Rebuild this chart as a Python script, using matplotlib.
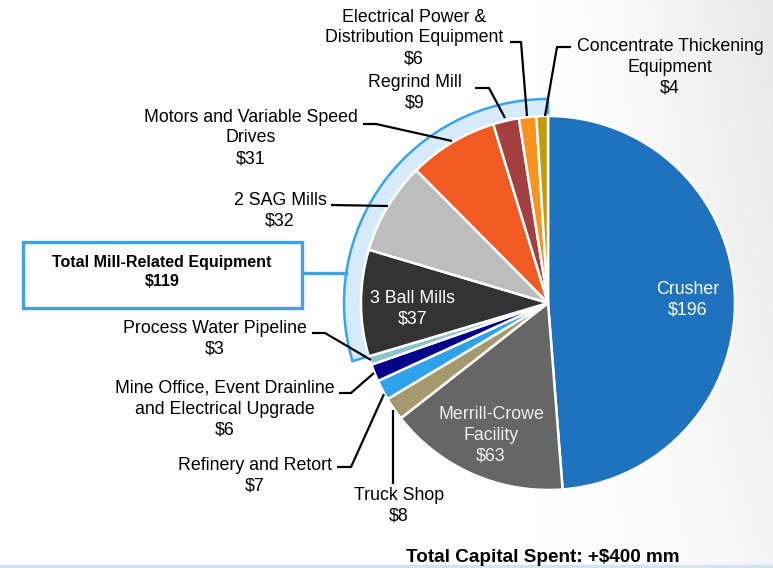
import numpy as np
import matplotlib
matplotlib.use("Agg")
import matplotlib.pyplot as plt
from matplotlib.patches import Wedge, Rectangle

plt.rcParams['font.family'] = ['Liberation Sans', 'DejaVu Sans']

# ---- data ----
categories = ["Crusher", "Merrill-Crowe Facility", "Truck Shop", "Refinery and Retort",
              "Mine Office, Event Drainline and Electrical Upgrade", "Process Water Pipeline",
              "3 Ball Mills", "2 SAG Mills", "Motors and Variable Speed Drives", "Regrind Mill",
              "Electrical Power & Distribution Equipment", "Concentrate Thickening Equipment"]
values = [196, 63, 8, 7, 6, 3, 37, 32, 31, 9, 6, 4]
colors = ["#1F72BD", "#666666", "#A5996F", "#2EA3EC", "#00008B", "#8CC3CB",
          "#333333", "#BDBDBD", "#F15A22", "#A43F3F", "#F7931E", "#C49A0F"]
mill_related = ["3 Ball Mills", "2 SAG Mills", "Motors and Variable Speed Drives", "Regrind Mill",
                "Electrical Power & Distribution Equipment", "Concentrate Thickening Equipment"]
mill_total = 119
total_label = "Total Capital Spent: +$400 mm"

W, H = 773, 568
fig = plt.figure(figsize=(W / 100, H / 100), dpi=100)
ax = fig.add_axes([0, 0, 1, 1])

def Y(py):
    return H - py

CX, CY, R = 548, Y(303), 187

# background gradient (light grey towards the top-right)
xx, yy = np.meshgrid(np.linspace(0, 1, 300), np.linspace(0, 1, 220))
g = 0.09 * np.clip((xx - 0.70) / 0.30, 0, 1) ** 1.3 * (1 - 0.55 * yy)
img = np.dstack([1 - g, 1 - g, 1 - g])
ax.imshow(img, extent=(0, W, 0, H), origin='upper', zorder=-10, aspect='auto')

wedges, _ = ax.pie(values, colors=colors, startangle=90, counterclock=False,
                   center=(CX, CY), radius=R, frame=True,
                   wedgeprops=dict(edgecolor='white', linewidth=1.8))

# mill-related band
tot = sum(values)
start_c = sum(v for c, v in zip(categories, values) if c not in mill_related)
th_end = 90 - 360 * start_c / tot
band = Wedge((CX, CY), 204, -270, th_end, width=19, facecolor="#D6EBFA",
             edgecolor="#3AA3EA", linewidth=1.8, zorder=0.5)
ax.add_patch(band)

# total mill-related box
ax.add_patch(Rectangle((23, Y(308)), 279, 66, facecolor='white', edgecolor="#3AA3EA",
                       linewidth=2.4, zorder=3))
ax.plot([302, 346], [Y(273), Y(273)], color="#3AA3EA", lw=2.4, zorder=2)
ax.text(162, Y(262), "Total Mill-Related Equipment", ha='center', va='center',
        fontsize=11.5, fontweight='bold', zorder=4)
ax.text(162, Y(282), f"${mill_total}", ha='center', va='center',
        fontsize=11.5, fontweight='bold', zorder=4)

fs = 12.8
def label(x, y, text, color='black', size=fs):
    ax.text(x, Y(y), text, ha='center', va='center', fontsize=size, color=color,
            linespacing=1.3, zorder=5)

def leader(pts):
    ax.plot([p[0] for p in pts], [Y(p[1]) for p in pts], color='black', lw=1.6,
            zorder=4, solid_capstyle='butt')

v = dict(zip(categories, values))
label(414, 38, f"Electrical Power &\nDistribution Equipment\n${v['Electrical Power & Distribution Equipment']}")
leader([(510, 42), (521, 42), (527, 116)])
label(670, 67, f"Concentrate Thickening\nEquipment\n${v['Concentrate Thickening Equipment']}")
leader([(571, 47), (557, 47), (545, 116)])
label(415, 93, f"Regrind Mill\n${v['Regrind Mill']}")
leader([(475, 88), (489, 88), (505, 118)])
label(251, 138, f"Motors and Variable Speed\nDrives\n${v['Motors and Variable Speed Drives']}")
leader([(363, 124), (376, 124), (452, 141)])
label(280, 211, f"2 SAG Mills\n${v['2 SAG Mills']}")
leader([(331, 205), (388, 206)])
label(215, 339, f"Process Water Pipeline\n${v['Process Water Pipeline']}")
leader([(312, 333), (325, 333), (371, 360)])
label(225, 409, f"Mine Office, Event Drainline\nand Electrical Upgrade\n${v['Mine Office, Event Drainline and Electrical Upgrade']}")
leader([(339, 393), (351, 393), (374, 373)])
label(255, 476, f"Refinery and Retort\n${v['Refinery and Retort']}")
leader([(337, 467), (351, 467), (384, 394)])
label(399, 506, f"Truck Shop\n${v['Truck Shop']}")
leader([(393, 484), (393, 410)])

label(413, 309, f"3 Ball Mills\n${v['3 Ball Mills']}", color='white')
label(491, 435, f"Merrill-Crowe\nFacility\n${v['Merrill-Crowe Facility']}", color='#EEEEEE')
label(688, 300, f"Crusher\n${v['Crusher']}", color='white')

ax.text(543, Y(557), total_label, ha='center', va='center', fontsize=13.6, fontweight='bold')
ax.plot([0, W], [Y(566), Y(566)], color="#D2E4F3", lw=2.5, zorder=1)

ax.set_xlim(0, W)
ax.set_ylim(0, H)
ax.set_aspect('equal')
ax.axis('off')
fig.savefig("out.png", dpi=100)
